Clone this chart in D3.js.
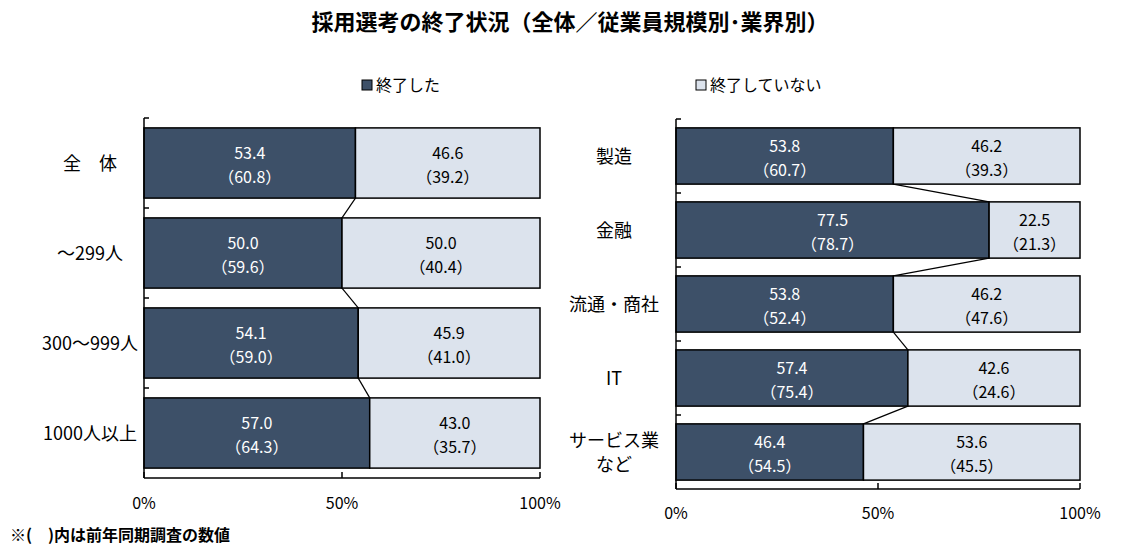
<!DOCTYPE html>
<html><head><meta charset="utf-8">
<script src="https://cdn.jsdelivr.net/npm/d3@7"></script>
<style>body{margin:0;background:#fff;font-family:"Noto Sans CJK JP","Noto Sans",sans-serif;}</style>
</head><body><svg id="c" width="1139" height="556"></svg>
<script>
// data
const leftCats = ["全　体", "～299人", "300～999人", "1000人以上"];
const leftDone = [53.4, 50.0, 54.1, 57.0];
const leftDonePrev = [60.8, 59.6, 59.0, 64.3];
const leftNot = [46.6, 50.0, 45.9, 43.0];
const leftNotPrev = [39.2, 40.4, 41.0, 35.7];

const rightCats = ["製造", "金融", "流通・商社", "IT", "サービス業\nなど"];
const rightDone = [53.8, 77.5, 53.8, 57.4, 46.4];
const rightDonePrev = [60.7, 78.7, 52.4, 75.4, 54.5];
const rightNot = [46.2, 22.5, 46.2, 42.6, 53.6];
const rightNotPrev = [39.3, 21.3, 47.6, 24.6, 45.5];

const xTicks = [0, 50, 100];
const DARK = "#3d5068", LIGHT = "#dce3ed";

const svg = d3.select("#c");

svg.append("text").attr("x", 570).attr("y", 30).attr("text-anchor", "middle")
  .style("font-size", "22px").style("font-weight", "bold")
  .text("採用選考の終了状況（全体／従業員規模別･業界別）");

// legend
const lg = [{x: 362, c: DARK, t: "終了した"}, {x: 696, c: LIGHT, t: "終了していない"}];
lg.forEach(d => {
  svg.append("rect").attr("x", d.x).attr("y", 80).attr("width", 10).attr("height", 10)
    .attr("fill", d.c).attr("stroke", "#000").attr("stroke-width", 1);
  svg.append("text").attr("x", d.x + 14).attr("y", 91).style("font-size", "16px").text(d.t);
});

svg.append("text").attr("x", 10).attr("y", 541).style("font-size", "16px").style("font-weight", "bold")
  .text("※(　)内は前年同期調査の数値");

function panel(cats, done, donePrev, notd, notPrev, xr, yr, pin, pout, labelX, tickY) {
  const x = d3.scaleLinear().domain([0, 100]).range(xr);
  const y = d3.scaleBand().domain(cats).range(yr).paddingInner(pin).paddingOuter(pout);
  const g = svg.append("g");
  const bh = y.bandwidth();

  // series lines
  for (let i = 0; i < cats.length - 1; i++) {
    g.append("line").attr("x1", x(done[i])).attr("y1", y(cats[i]) + bh)
      .attr("x2", x(done[i + 1])).attr("y2", y(cats[i + 1]))
      .attr("stroke", "#000").attr("stroke-width", 1.2);
  }

  cats.forEach((c, i) => {
    const y0 = y(c);
    g.append("rect").attr("x", x(0)).attr("y", y0).attr("width", x(done[i]) - x(0)).attr("height", bh)
      .attr("fill", DARK).attr("stroke", "#000").attr("stroke-width", 1.5);
    g.append("rect").attr("x", x(done[i])).attr("y", y0).attr("width", x(100) - x(done[i])).attr("height", bh)
      .attr("fill", LIGHT).attr("stroke", "#000").attr("stroke-width", 1.5);
    const segs = [
      {cx: (x(0) + x(done[i])) / 2, v: done[i], p: donePrev[i], col: "#fff"},
      {cx: (x(done[i]) + x(100)) / 2, v: notd[i], p: notPrev[i], col: "#000"}
    ];
    segs.forEach(s => {
      g.append("text").attr("x", s.cx).attr("y", y0 + bh / 2 - 4).attr("text-anchor", "middle")
        .attr("fill", s.col).style("font-size", "16px").text(s.v.toFixed(1));
      g.append("text").attr("x", s.cx).attr("y", y0 + bh / 2 + 20).attr("text-anchor", "middle")
        .attr("fill", s.col).style("font-size", "16px").text("（" + s.p.toFixed(1) + "）");
    });
    const lines = c.split("\n");
    lines.forEach((t, j) => {
      g.append("text").attr("x", labelX).attr("y", y0 + bh / 2 + 7 + (j - (lines.length - 1) / 2) * 24)
        .attr("text-anchor", "middle").style("font-size", "18px").text(t);
    });
  });

  // axes
  const yAx = d3.range(cats.length + 1).map(k => yr[0] + k * y.step() - (k === cats.length ? (y.step() * pin - y.step() * pin) : 0));
  g.append("line").attr("x1", x(0)).attr("x2", x(0)).attr("y1", yr[0]).attr("y2", yr[1]).attr("stroke", "#000").attr("stroke-width", 1.5);
  cats.forEach((c, i) => {
    const ty = i === 0 ? yr[0] : y(c) - y.step() * pin / 2;
    g.append("line").attr("x1", x(0)).attr("x2", x(0) + 5).attr("y1", ty).attr("y2", ty).attr("stroke", "#000").attr("stroke-width", 1.5);
  });
  g.append("line").attr("x1", x(0)).attr("x2", x(100)).attr("y1", yr[1]).attr("y2", yr[1]).attr("stroke", "#000").attr("stroke-width", 1.5);
  xTicks.forEach(t => {
    g.append("line").attr("x1", x(t)).attr("x2", x(t)).attr("y1", yr[1]).attr("y2", yr[1] - 6).attr("stroke", "#000").attr("stroke-width", 1.5);
    g.append("text").attr("x", x(t)).attr("y", tickY).attr("text-anchor", "middle").style("font-size", "16px").text(t + "%");
  });
}

panel(leftCats, leftDone, leftDonePrev, leftNot, leftNotPrev, [144, 540], [118, 478], 0.22, 0.11, 90, 509);
panel(rightCats, rightDone, rightDonePrev, rightNot, rightNotPrev, [676, 1080], [119, 489], 0.24, 0.12, 614, 519);
</script></body></html>
